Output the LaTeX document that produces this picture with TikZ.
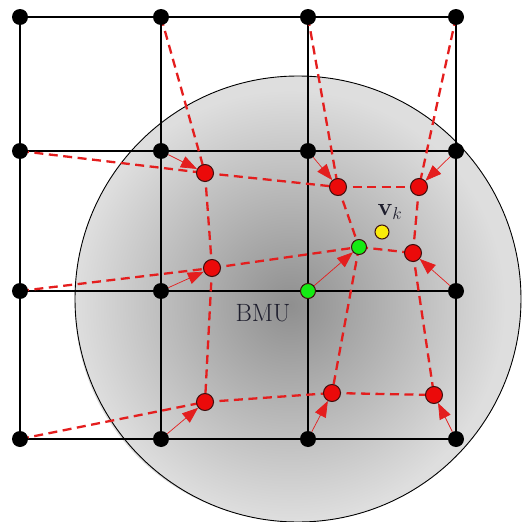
\documentclass[tikz,border=0pt]{standalone}
\usetikzlibrary{arrows.meta}
\definecolor{sred}{RGB}{228,30,30}
\definecolor{dotred}{RGB}{235,10,10}
\definecolor{dotgreen}{RGB}{20,235,20}
\definecolor{dotyellow}{RGB}{250,235,10}
\definecolor{rimdark}{RGB}{60,15,15}
\definecolor{labelink}{RGB}{30,30,45}
\tikzset{
  gridline/.style={line width=1.8pt,black},
  bdot/.style={circle,fill=black,inner sep=0pt,minimum size=16pt},
  rdot/.style={circle,fill=dotred,draw=rimdark,line width=1pt,inner sep=0pt,minimum size=17pt},
  gdot/.style={circle,fill=dotgreen,draw=rimdark,line width=1pt,inner sep=0pt,minimum size=15pt},
  ydot/.style={circle,fill=dotyellow,draw=rimdark,line width=1pt,inner sep=0pt,minimum size=14pt},
  meshline/.style={sred,line width=2.3pt,dash pattern=on 9pt off 5.5pt},
  movearrow/.style={sred,line width=0.7pt,-{Triangle[length=16pt,width=12pt]}},
}
\begin{document}
\begin{tikzpicture}[x=1pt,y=-1pt]
\useasboundingbox (0,0) rectangle (523,522);
% neighbourhood disc
\fill[black!13] (298,299) circle (223);
\shade[inner color=black!44, outer color=black!13] (290,305) circle (215);
\draw[line width=0.9pt,black] (298,299) circle (223);
% grid coordinates
\foreach \i/\y in {1/17,2/151,3/291,4/439}{
  \foreach \j/\x in {1/20,2/161,3/308,4/456}{
    \coordinate (c\i\j) at (\x,\y);
  }
}
% grid lines
\foreach \i in {1,2,3,4}{
  \draw[gridline] (c\i1) -- (c\i4);
  \draw[gridline] (c1\i) -- (c4\i);
}
% displaced nodes positions
\coordinate (p1) at (205,173);
\coordinate (p2) at (338,187);
\coordinate (p3) at (419,187);
\coordinate (p4) at (359,247);
\coordinate (p5) at (413,253);
\coordinate (p6) at (212,268);
\coordinate (p7) at (205,402);
\coordinate (p8) at (332,393);
\coordinate (p9) at (434,395);
% dashed mesh
\draw[meshline] (c12) -- (p1);
\draw[meshline] (c13) -- (p2);
\draw[meshline] (c14) -- (p3);
\draw[meshline] (c21) -- (p1);
\draw[meshline] (c31) -- (p6);
\draw[meshline] (c41) -- (p7);
\draw[meshline] (p1) -- (p2);
\draw[meshline] (p2) -- (p3);
\draw[meshline] (p1) -- (p6);
\draw[meshline] (p2) -- (p4);
\draw[meshline] (p3) -- (p5);
\draw[meshline] (p6) -- (p4);
\draw[meshline] (p4) -- (p5);
\draw[meshline] (p6) -- (p7);
\draw[meshline] (p4) -- (p8);
\draw[meshline] (p5) -- (p9);
\draw[meshline] (p7) -- (p8);
\draw[meshline] (p8) -- (p9);
% grid dots
\foreach \i in {1,2,3,4}{
  \foreach \j in {1,2,4}{
    \node[bdot] (g\i\j) at (c\i\j) {};
  }
}
\node[bdot] (g13) at (c13) {};
\node[gdot] (g33) at (c33) {};
\node[bdot] (g23) at (c23) {};
\node[bdot] (g43) at (c43) {};
% displaced dots
\node[rdot] (r1) at (p1) {};
\node[rdot] (r2) at (p2) {};
\node[rdot] (r3) at (p3) {};
\node[gdot] (r4) at (p4) {};
\node[rdot] (r5) at (p5) {};
\node[rdot] (r6) at (p6) {};
\node[rdot] (r7) at (p7) {};
\node[rdot] (r8) at (p8) {};
\node[rdot] (r9) at (p9) {};
\node[ydot] (vk) at (382,232) {};
% movement arrows
\draw[movearrow] (g22) -- (r1);
\draw[movearrow] (g23) -- (r2);
\draw[movearrow] (g24) -- (r3);
\draw[movearrow] (g32) -- (r6);
\draw[movearrow] (g33) -- (r4);
\draw[movearrow] (g34) -- (r5);
\draw[movearrow] (g42) -- (r7);
\draw[movearrow] (g43) -- (r8);
\draw[movearrow] (g44) -- (r9);
% labels
\node[text=labelink, font=\fontsize{25}{30}\selectfont, inner sep=0pt] (bmu) at (263,313) {BMU};
\node[text=labelink, font=\fontsize{24}{28}\selectfont, inner sep=0pt] (vklabel) at (390,212) {$\mathbf{v}_k$};
\end{tikzpicture}
\end{document}
